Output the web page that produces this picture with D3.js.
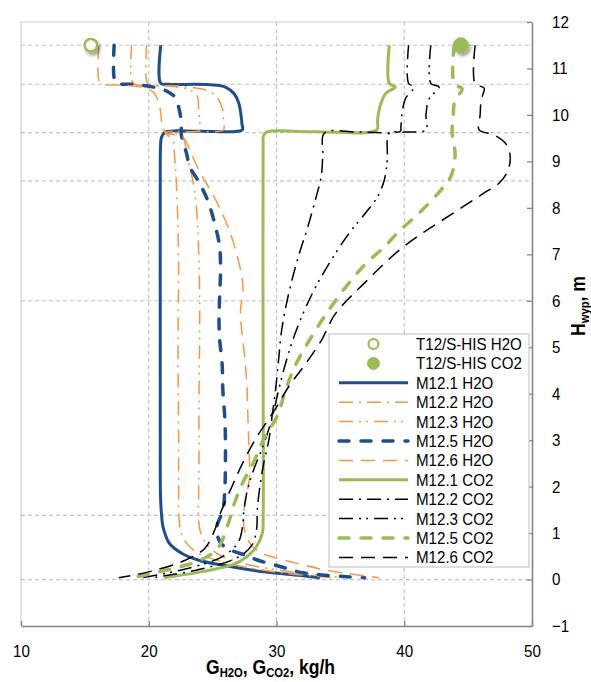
<!DOCTYPE html>
<html><head><meta charset="utf-8">
<script src="https://cdn.jsdelivr.net/npm/d3@7"></script>
<style>
body{margin:0;background:#fff;}
svg text{font-family:"Liberation Sans",Arial,sans-serif;fill:#000;}
</style></head><body>
<svg id="chart" width="591" height="682"></svg>
<script>
// ---- data: mass flow G [kg/h] against height H [m] ----
const xTicks = [10, 20, 30, 40, 50];
const yTicks = [-1, 0, 1, 2, 3, 4, 5, 6, 7, 8, 9, 10, 11, 12];
const xGrid = [20, 30, 40];
const levelLines = [11.5, 10.66, 9.62, 8.58, 6.0, 1.38, 0];

const seriesNames = ["T12/S-HIS H2O", "T12/S-HIS CO2",
  "M12.1 H2O", "M12.2 H2O", "M12.3 H2O", "M12.5 H2O", "M12.6 H2O",
  "M12.1 CO2", "M12.2 CO2", "M12.3 CO2", "M12.5 CO2", "M12.6 CO2"];

const t12H2O = [[15.47, 11.5]];
const t12CO2 = [[44.43, 11.5]];

const m121H2O = [[20.94,11.5],[20.94,10.68],[21.5,10.66],[24.8,10.65],[26.0,10.6],[26.7,10.45],[27.05,10.25],[27.22,10.0],[27.3,9.8],[27.32,9.68],[24.0,9.65],[21.3,9.63],[21.0,9.52],[20.92,9.3],[20.9,8.5],[20.9,5.0],[20.9,2.5],[20.92,1.8],[21.0,1.4],[21.12,1.13],[21.64,0.77],[22.68,0.55],[23.98,0.41],[26.59,0.27],[29.2,0.16],[31.8,0.09],[33.4,0.04]];
const m122H2O = [[19.82,11.5],[19.82,10.75],[20.0,10.66],[22.5,10.62],[24.6,10.52],[25.3,10.39],[25.75,10.15],[25.85,9.85],[25.85,9.68],[23.5,9.64],[21.3,9.62],[21.9,9.46],[22.0,9.2],[22.15,8.6],[22.27,7.74],[22.34,6.66],[22.3,5.58],[22.3,4.29],[22.34,3.0],[22.34,1.92],[22.42,1.16],[22.73,0.88],[23.67,0.6],[25.94,0.37],[30.23,0.15],[34.53,0.04]];
const m123H2O = [[18.65,11.5],[18.65,10.75],[18.9,10.66],[21.5,10.62],[23.2,10.54],[23.8,10.4],[23.9,10.1],[24.0,9.75],[23.9,9.66],[22.0,9.62],[22.7,9.5],[23.0,9.1],[23.44,8.6],[23.75,7.95],[23.9,7.09],[23.98,6.23],[23.98,5.15],[23.93,3.86],[23.93,2.56],[23.9,1.7],[23.9,1.27],[24.14,0.95],[25.0,0.62],[27.1,0.37],[31.0,0.17],[35.3,0.04]];
const m125H2O = [[17.29,11.5],[17.29,10.8],[17.5,10.68],[18.7,10.66],[20.7,10.58],[21.5,10.5],[22.05,10.38],[22.4,10.1],[22.55,9.8],[22.55,9.57],[22.95,9.18],[23.2,8.89],[23.83,8.6],[24.6,8.17],[25.29,7.52],[25.55,7.16],[25.62,6.66],[25.55,6.1],[25.5,5.58],[25.55,5.17],[25.74,4.66],[25.8,4.07],[25.94,3.53],[26.0,3.06],[26.0,2.5],[25.96,1.98],[25.8,1.49],[25.4,1.21],[25.3,1.06],[25.6,0.8],[26.2,0.66],[27.6,0.52],[28.5,0.42],[30.8,0.24],[31.8,0.16],[33.5,0.1],[35.5,0.06],[36.9,0.04]];
const m126H2O = [[16.09,11.5],[16.09,10.75],[16.3,10.67],[18.0,10.64],[19.7,10.58],[20.4,10.48],[20.8,10.25],[20.97,9.95],[21.05,9.7],[21.5,9.6],[22.66,9.53],[23.36,9.14],[24.12,8.71],[24.92,8.34],[25.63,7.95],[26.25,7.56],[26.8,7.09],[27.27,6.55],[27.38,6.23],[27.19,5.81],[27.27,5.37],[27.54,4.72],[27.7,4.07],[27.77,3.43],[27.85,2.78],[27.89,2.24],[27.66,1.81],[27.42,1.38],[27.5,1.06],[28.05,0.73],[28.83,0.57],[31.0,0.39],[34.14,0.19],[38.05,0.04]];

const m121CO2 = [[38.83,11.5],[38.83,10.68],[39.3,10.6],[38.57,10.47],[38.1,10.18],[37.91,9.89],[37.84,9.68],[33.0,9.64],[29.22,9.63],[28.98,9.55],[28.95,9.35],[28.95,5.0],[28.95,1.27],[28.9,1.01],[28.41,0.7],[27.63,0.48],[26.59,0.32],[23.98,0.16],[21.38,0.04],[21.25,0.02]];
const m122CO2 = [[40.34,11.5],[40.34,10.68],[40.78,10.6],[40.13,10.37],[39.87,10.13],[39.74,9.75],[39.69,9.65],[36.5,9.63],[33.75,9.61],[33.63,9.14],[33.49,8.66],[33.1,8.23],[32.45,7.59],[31.8,7.03],[31.15,6.38],[30.63,5.73],[30.37,5.3],[30.16,4.72],[29.92,4.07],[29.61,3.43],[29.4,3.0],[29.0,2.5],[28.7,2.0],[28.5,1.5],[28.45,1.1],[28.1,0.75],[27.0,0.48],[24.0,0.22],[20.1,0.03]];
const m123CO2 = [[42.08,11.5],[42.08,10.68],[42.73,10.6],[41.95,10.35],[41.7,10.0],[41.7,9.68],[40.0,9.63],[38.83,9.61],[38.67,9.03],[38.44,8.6],[37.89,8.23],[37.03,7.91],[35.7,7.46],[34.14,6.81],[32.81,6.16],[31.56,5.37],[30.78,4.72],[30.16,4.07],[29.61,3.43],[28.9,2.84],[28.2,2.35],[27.7,1.9],[27.45,1.5],[27.35,1.16],[27.0,0.8],[25.8,0.5],[23.2,0.25],[19.3,0.03]];
const m125CO2 = [[43.91,11.5],[43.91,10.67],[44.53,10.56],[43.98,10.32],[43.83,10.0],[43.75,9.61],[43.98,9.14],[43.67,8.69],[42.73,8.34],[41.17,7.89],[39.61,7.5],[38.44,7.16],[37.03,6.81],[35.78,6.42],[34.53,5.97],[33.67,5.63],[32.58,5.15],[31.48,4.61],[30.7,4.07],[30.08,3.53],[29.06,3.06],[28.2,2.52],[27.34,2.07],[26.64,1.59],[26.17,1.16],[25.39,0.67],[23.98,0.41],[20.86,0.17],[18.36,0.02]];
const m126CO2 = [[45.55,11.5],[45.55,10.67],[46.25,10.58],[46.02,10.32],[45.94,10.0],[45.86,9.68],[47.03,9.57],[47.89,9.4],[48.28,9.14],[48.13,8.81],[47.42,8.53],[46.25,8.32],[44.69,8.04],[42.73,7.69],[41.17,7.41],[39.61,7.09],[38.05,6.7],[36.88,6.38],[35.7,6.06],[34.53,5.69],[33.52,5.15],[32.19,4.61],[31.02,4.18],[29.84,3.64],[28.44,3.06],[27.34,2.5],[26.56,2.03],[25.7,1.49],[25.08,1.01],[24.38,0.67],[22.81,0.41],[20.08,0.17],[17.66,0.04]];

// ---- styles ----
const NAVY = "#1f4e8a", ORANGE = "#f79646", GREEN = "#9bbb59", BLACK = "#000";
const DASH_DOT = "14,6,2,6", DASH_DOT_DOT = "14,6,2,5,2,6", LONG_DASH = "14,8", THICK_DASH = "10,12";

const lineSeries = [
  {name: "M12.1 H2O", data: m121H2O, color: NAVY,   width: 3,   dash: null},
  {name: "M12.2 H2O", data: m122H2O, color: ORANGE, width: 1.5, dash: DASH_DOT},
  {name: "M12.3 H2O", data: m123H2O, color: ORANGE, width: 1.5, dash: DASH_DOT_DOT},
  {name: "M12.5 H2O", data: m125H2O, color: NAVY,   width: 3.5, dash: THICK_DASH, round: true},
  {name: "M12.6 H2O", data: m126H2O, color: ORANGE, width: 1.5, dash: LONG_DASH},
  {name: "M12.1 CO2", data: m121CO2, color: GREEN,  width: 3,   dash: null},
  {name: "M12.2 CO2", data: m122CO2, color: BLACK,  width: 1.5, dash: DASH_DOT},
  {name: "M12.3 CO2", data: m123CO2, color: BLACK,  width: 1.5, dash: DASH_DOT_DOT},
  {name: "M12.5 CO2", data: m125CO2, color: GREEN,  width: 3.5, dash: THICK_DASH, round: true},
  {name: "M12.6 CO2", data: m126CO2, color: BLACK,  width: 1.5, dash: LONG_DASH}
];
const markerSeries = [
  {name: "T12/S-HIS H2O", data: t12H2O, filled: false},
  {name: "T12/S-HIS CO2", data: t12CO2, filled: true}
];

// ---- chart ----
const SQ = 0.89; // horizontal squeeze of the lettering
const svg = d3.select("#chart");
const x = d3.scaleLinear().domain([10, 50]).range([21, 532]);
const y = d3.scaleLinear().domain([-1, 12]).range([626, 22]);

const defs = svg.append("defs");
const shadow = defs.append("filter").attr("id", "mshadow")
  .attr("x", "-50%").attr("y", "-50%").attr("width", "200%").attr("height", "200%");
shadow.append("feDropShadow").attr("dx", 2).attr("dy", 3).attr("stdDeviation", 1.8)
  .attr("flood-color", "#000").attr("flood-opacity", 0.35);

svg.append("rect").attr("width", 591).attr("height", 682).attr("fill", "#fff");

// plot-area border (top and left)
svg.append("path")
  .attr("d", `M${x(10)},${y(-1)}V${y(12)}H${x(50)}`)
  .attr("fill", "none").attr("stroke", "#d0d0d0").attr("stroke-width", 1.2);

// grid
const grid = svg.append("g").attr("stroke", "#c4c4c4").attr("stroke-width", 1.2)
  .attr("stroke-dasharray", "4,3").attr("fill", "none");
grid.selectAll("line.v").data(xGrid).join("line").attr("class", "v")
  .attr("x1", d => x(d)).attr("x2", d => x(d)).attr("y1", y(12)).attr("y2", y(-1));
grid.selectAll("line.h").data(levelLines).join("line").attr("class", "h")
  .attr("x1", x(10)).attr("x2", x(50)).attr("y1", d => y(d)).attr("y2", d => y(d));

// profiles
const line = d3.line().x(d => x(d[0])).y(d => y(d[1])).curve(d3.curveCatmullRom.alpha(0.5));
svg.append("g").selectAll("path").data(lineSeries).join("path")
  .attr("d", d => line(d.data))
  .attr("fill", "none")
  .attr("stroke", d => d.color)
  .attr("stroke-width", d => d.width)
  .attr("stroke-dasharray", d => d.dash)
  .attr("stroke-linecap", d => d.round ? "round" : "butt")
  .attr("stroke-linejoin", "round");

// measured points
const mk = svg.append("g");
markerSeries.forEach(s => {
  mk.selectAll(null).data(s.data).join("circle")
    .attr("cx", d => x(d[0])).attr("cy", d => y(d[1]))
    .attr("r", s.filled ? 7.5 : 6.3)
    .attr("fill", s.filled ? GREEN : "#fff")
    .attr("stroke", GREEN).attr("stroke-width", s.filled ? 1 : 2.6)
    .attr("filter", "url(#mshadow)");
});

// axes
const xAxis = svg.append("g").attr("transform", `translate(0,${y(-1)})`)
  .call(d3.axisBottom(x).tickValues(xTicks).tickSize(-5).tickSizeOuter(0).tickPadding(19));
const yAxis = svg.append("g").attr("transform", `translate(${x(50)},0)`)
  .call(d3.axisRight(y).tickValues(yTicks).tickSize(-5).tickSizeOuter(0).tickPadding(20));
[xAxis, yAxis].forEach(g => {
  g.select(".domain").attr("stroke", "#868686").attr("stroke-width", 1.6);
  g.selectAll(".tick line").attr("stroke", "#868686").attr("stroke-width", 1.3);
  g.selectAll(".tick text").attr("font-size", 17).attr("fill", "#000")
    .attr("font-family", "Liberation Sans, Arial, sans-serif")
    .each(function () {
      const t = d3.select(this);
      const tx = +t.attr("x") || 0;
      t.attr("x", tx / SQ).attr("transform", `scale(${SQ},1)`);
    });
});

// axis titles
const xt = svg.append("text").attr("transform", `translate(206,674) scale(0.9,1)`)
  .attr("text-anchor", "start").attr("font-weight", "bold").attr("font-size", 19.5);
xt.append("tspan").text("G");
xt.append("tspan").attr("font-size", 12.5).attr("dy", 3).text("H2O");
xt.append("tspan").attr("dy", -3).text(", G");
xt.append("tspan").attr("font-size", 12.5).attr("dy", 3).text("CO2");
xt.append("tspan").attr("dy", -3).text(", kg/h");

const yt = svg.append("text").attr("transform", `translate(585,306) rotate(-90) scale(0.9,1)`)
  .attr("text-anchor", "middle").attr("font-weight", "bold").attr("font-size", 19.5);
yt.append("tspan").text("H");
yt.append("tspan").attr("font-size", 12.5).attr("dy", 3.5).text("wyp");
yt.append("tspan").attr("dy", -3.5).text(", m");

// legend
const lg = svg.append("g");
lg.append("rect").attr("x", 329).attr("y", 334).attr("width", 200).attr("height", 233)
  .attr("fill", "#fff").attr("stroke", "#c8c8c8").attr("stroke-width", 1.2);
const rowH = 19.4, row0 = 344;
seriesNames.forEach((name, i) => {
  const cy = row0 + i * rowH;
  const m = markerSeries.find(s => s.name === name);
  const l = lineSeries.find(s => s.name === name);
  if (m) {
    lg.append("circle").attr("cx", 373.5).attr("cy", cy).attr("r", m.filled ? 6 : 5)
      .attr("fill", m.filled ? GREEN : "#fff").attr("stroke", GREEN)
      .attr("stroke-width", m.filled ? 1 : 2.2);
  } else if (l) {
    lg.append("line").attr("x1", 339).attr("x2", 408).attr("y1", cy).attr("y2", cy)
      .attr("stroke", l.color).attr("stroke-width", l.width)
      .attr("stroke-dasharray", l.dash).attr("stroke-linecap", l.round ? "round" : "butt");
  }
  lg.append("text").attr("transform", `translate(416,${cy + 6}) scale(${SQ},1)`)
    .attr("font-size", 17).text(name);
});
</script>
</body></html>
